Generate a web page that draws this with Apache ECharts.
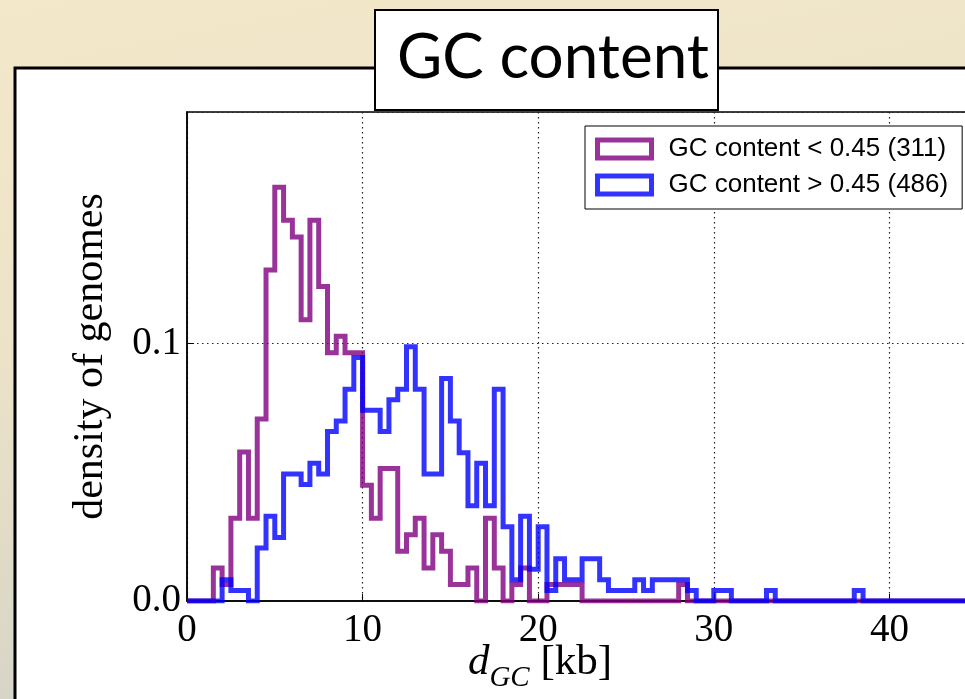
<!DOCTYPE html>
<html>
<head>
<meta charset="utf-8">
<script src="https://cdn.jsdelivr.net/npm/echarts@6/dist/echarts.min.js"></script>
<style>
  html, body { margin: 0; padding: 0; }
  #chart { width: 965px; height: 699px; }
</style>
</head>
<body>
<div id="chart"></div>
<script>
// Genome counts per d_GC bin (bin width 0.5 kb, first bin starts at 0 kb).
const binWidth = 0.5;
const histEnd = 50;

// GC content < 0.45
const lowGcCounts = [
  0, 0, 0, 2, 1, 5, 9, 5, 11, 20,
  25, 23, 22, 17, 23, 19, 15, 16, 15, 15,
  7, 5, 8, 8, 3, 4, 5, 2, 4, 3,
  1, 1, 2, 0, 5, 2, 0, 1, 2, 0,
  0, 1, 1, 1, 1, 0, 0, 0, 0, 0,
  0, 0, 0, 0, 0, 0, 1
];

// GC content > 0.45
const highGcCounts = [
  0, 0, 0, 0, 2, 1, 1, 0, 5, 8,
  6, 12, 12, 11, 13, 12, 16, 17, 20, 23,
  18, 18, 16, 19, 20, 24, 20, 12, 12, 21,
  17, 14, 9, 13, 9, 20, 7, 2, 8, 3,
  7, 1, 4, 2, 2, 4, 4, 2, 1, 1,
  1, 2, 1, 2, 2, 2, 2, 1, 0, 0,
  1, 1, 0, 0, 0, 0, 1, 0, 0, 0,
  0, 0, 0, 0, 0, 0, 1
];

const groupNames = ['GC content < 0.45', 'GC content > 0.45'];
const groupColors = ['rgba(128,0,128,0.8)', 'rgba(0,0,255,0.8)'];
const yTickLabels = ['0.0', '0.1'];

function total(counts) {
  return counts.reduce((a, b) => a + b, 0);
}

// Density-normalised step outline: one point per bin left edge, then back to zero.
function stepOutline(counts) {
  const n = total(counts);
  const pts = counts.map((c, i) => [i * binWidth, c / (n * binWidth)]);
  pts.push([counts.length * binWidth, 0]);
  pts.push([histEnd, 0]);
  return pts;
}

const seriesCounts = [lowGcCounts, highGcCounts];
const legendNames = groupNames.map((g, i) => g + ' (' + total(seriesCounts[i]) + ')');

const serif = 'Liberation Serif';

const chart = echarts.init(document.getElementById('chart'), null, { renderer: 'canvas' });

chart.setOption({
  backgroundColor: {
    type: 'linear', x: 0, y: 0, x2: 0.15, y2: 1,
    colorStops: [
      { offset: 0, color: '#f4e8ca' },
      { offset: 0.5, color: '#ebe2c8' },
      { offset: 1, color: '#d6d4c7' }
    ]
  },
  animation: false,
  graphic: [
    {
      type: 'rect', z: -10,
      shape: { x: 15, y: 68, width: 1000, height: 700 },
      style: { fill: '#ffffff', stroke: '#000000', lineWidth: 3 }
    },
    {
      type: 'rect', z: 5,
      shape: { x: 375, y: 10, width: 343, height: 100 },
      style: { fill: '#ffffff', stroke: '#000000', lineWidth: 2 }
    }
  ],
  title: {
    text: 'GC content',
    left: 548,
    top: 18,
    textAlign: 'center',
    z: 6,
    textStyle: {
      fontFamily: 'Lato',
      fontWeight: 'normal',
      fontSize: 62,
      lineHeight: 70,
      color: '#000'
    }
  },
  legend: {
    left: 585,
    top: 126,
    orient: 'vertical',
    selectedMode: false,
    backgroundColor: '#ffffff',
    borderColor: '#000000',
    borderWidth: 1,
    borderRadius: 0,
    padding: [10, 14, 11, 10],
    itemGap: 10,
    itemWidth: 54,
    itemHeight: 18,
    textStyle: {
      fontFamily: 'Liberation Sans',
      fontSize: 26,
      color: '#000',
      padding: [0, 0, 0, 12]
    },
    data: legendNames.map((name, i) => ({
      name: name,
      icon: 'rect',
      itemStyle: { color: '#ffffff', borderColor: groupColors[i], borderWidth: 5 }
    }))
  },
  grid: {
    left: 187,
    top: 112,
    width: 878,
    height: 489,
    outerBoundsMode: 'none',
    containLabel: false,
    show: true,
    backgroundColor: '#ffffff',
    borderColor: '#000000',
    borderWidth: 1.5
  },
  xAxis: {
    type: 'value',
    min: 0,
    max: histEnd,
    interval: 10,
    name: '{d|d}{sub|GC}{n| [kb]}',
    nameLocation: 'middle',
    nameGap: 40,
    nameMoveOverlap: false,
    nameTextStyle: {
      padding: [0, 172, 0, 0],
      rich: {
        d: { fontFamily: serif, fontStyle: 'italic', fontSize: 43, color: '#000', verticalAlign: 'bottom', padding: [0, 0, 9, 0] },
        sub: { fontFamily: serif, fontStyle: 'italic', fontSize: 29, color: '#000', verticalAlign: 'bottom' },
        n: { fontFamily: serif, fontSize: 43, color: '#000', verticalAlign: 'bottom', padding: [0, 0, 9, 0] }
      }
    },
    axisLine: { show: true, onZero: false, lineStyle: { color: '#000', width: 1.5 } },
    axisTick: { show: true, inside: true, length: 7, lineStyle: { color: '#000', width: 1 } },
    axisLabel: { fontFamily: serif, fontSize: 39, color: '#000', margin: 10 },
    splitLine: { show: true, lineStyle: { color: '#222', width: 1.2, type: [1.5, 3.5] } }
  },
  yAxis: {
    type: 'value',
    min: 0,
    max: 0.19,
    interval: 0.1,
    name: 'density of genomes',
    nameLocation: 'middle',
    nameRotate: 90,
    nameGap: 75,
    nameTextStyle: { fontFamily: serif, fontSize: 42, color: '#000' },
    axisLine: { show: true, onZero: false, lineStyle: { color: '#000', width: 1.5 } },
    axisTick: { show: true, inside: true, length: 7, lineStyle: { color: '#000', width: 1 } },
    axisLabel: {
      fontFamily: serif, fontSize: 39, color: '#000', margin: 6,
      showMaxLabel: false,
      formatter: v => yTickLabels[Math.round(v * 10)] || ''
    },
    splitLine: { show: true, lineStyle: { color: '#222', width: 1.2, type: [1.5, 3.5] } }
  },
  series: seriesCounts.map((counts, i) => ({
    name: legendNames[i],
    type: 'line',
    step: 'end',
    showSymbol: false,
    symbol: 'none',
    silent: true,
    z: 2 + i,
    lineStyle: { color: groupColors[i], width: 5, join: 'miter', cap: 'butt' },
    itemStyle: { color: groupColors[i] },
    data: stepOutline(counts)
  }))
});
</script>
</body>
</html>
